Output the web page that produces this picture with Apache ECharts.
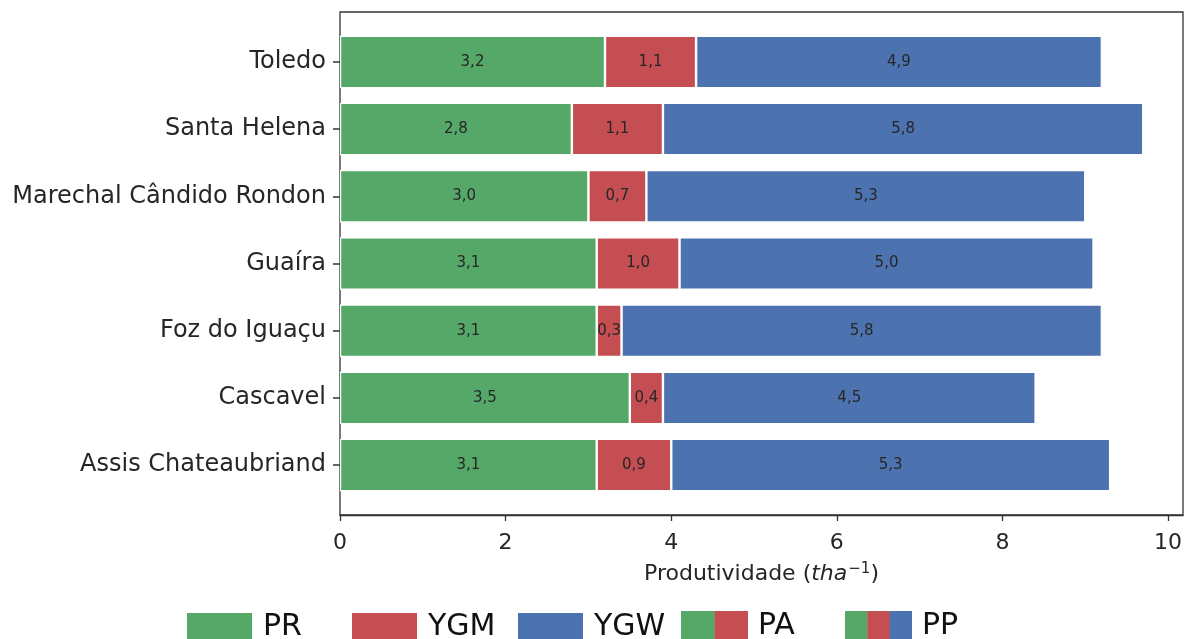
<!DOCTYPE html>
<html>
<head>
<meta charset="utf-8">
<script src="https://cdn.jsdelivr.net/npm/echarts@6/dist/echarts.min.js"></script>
<style>
  html, body { margin: 0; padding: 0; background: #fff; }
  #chart { width: 1185px; height: 639px; }
</style>
</head>
<body>
<div id="chart"></div>
<script>
// categories from top to bottom, as in the picture
const cities = ["Toledo", "Santa Helena", "Marechal Cândido Rondon", "Guaíra", "Foz do Iguaçu", "Cascavel", "Assis Chateaubriand"]
const pr = [3.2, 2.8, 3.0, 3.1, 3.1, 3.5, 3.1]
const ygm = [1.1, 1.1, 0.7, 1.0, 0.3, 0.4, 0.9]
const ygw = [4.9, 5.8, 5.3, 5.0, 5.8, 4.5, 5.3]
const xTicks = [0, 2, 4, 6, 8, 10]

const GREEN = "#55a868"
const RED = "#c44e52"
const BLUE = "#4c72b0"
const FONT = "DejaVu Sans"
const INK = "#262626"

// multi-colour legend swatches
function swatch(colors) {
  const w = 67 / colors.length
  const rects = colors.map((c, i) => `<rect x="${i * w}" y="0" width="${w + 0.3}" height="30" fill="${c}"/>`).join("")
  const svg = `<svg xmlns="http://www.w3.org/2000/svg" width="67" height="30" viewBox="0 0 67 30" preserveAspectRatio="none">${rects}</svg>`
  return "image://data:image/svg+xml;charset=utf-8," + encodeURIComponent(svg)
}

const fmt = (p) => p.value.toFixed(1).replace(".", ",")

const chart = echarts.init(document.getElementById("chart"), null, { renderer: "canvas" })

function legendItem(name, left, icon) {
  return {
    data: [{ name: name, icon: icon || "rect" }],
    left: left,
    top: 611,
    padding: 0,
    itemWidth: 67,
    itemHeight: 30,
    selectedMode: false,
    textStyle: { fontFamily: FONT, fontSize: 30, color: "#111", padding: [2, 0, 0, 5] },
  }
}

const barBase = {
  type: "bar",
  stack: "total",
  xAxisIndex: 1,
  yAxisIndex: 1,
  barWidth: "78%",
  label: { show: true, position: "inside", formatter: fmt, fontFamily: FONT, fontSize: 15, color: INK },
}

chart.setOption({
  animation: false,
  textStyle: { fontFamily: FONT },
  grid: [
    // frame
    { left: 340, right: 2, top: 12, bottom: 124, show: true, borderColor: "#333", borderWidth: 1.3, outerBoundsMode: "none" },
    // bars
    { left: 340, right: 2, top: 28.3, bottom: 140.3, outerBoundsMode: "none" },
  ],
  xAxis: [
    {
      gridIndex: 0,
      type: "value",
      min: 0,
      max: 10.18,
      interval: 2,
      axisLine: { show: true, lineStyle: { color: "#333", width: 1.3 } },
      axisTick: { show: true, length: 6, lineStyle: { color: "#333", width: 1.3 } },
      axisLabel: {
        fontSize: 22,
        color: INK,
        margin: 17,
        showMaxLabel: false,
        formatter: (v) => (xTicks.includes(v) ? String(v) : ""),
      },
      splitLine: { show: false },
      name: "Produtividade ({i|tha}{s|−1})",
      nameLocation: "middle",
      nameGap: 47,
      nameTextStyle: {
        fontSize: 22,
        color: INK,
        rich: {
          i: { fontSize: 22, fontStyle: "italic", color: INK },
          s: { fontSize: 15, color: INK, verticalAlign: "top", padding: [0, 0, 10, 1] },
        },
      },
    },
    { gridIndex: 1, type: "value", min: 0, max: 10.18, show: false },
  ],
  yAxis: [
    { gridIndex: 0, type: "value", min: 0, max: 1, show: false },
    {
      gridIndex: 1,
      type: "category",
      inverse: true,
      data: cities,
      axisLine: { show: false },
      axisTick: { show: true, alignWithLabel: true, length: 7, lineStyle: { color: "#333", width: 1.5 } },
      axisLabel: { fontSize: 24, color: INK, margin: 14, padding: [8, 0, 0, 0] },
    },
  ],
  legend: [
    legendItem("PR", 185),
    legendItem("YGM", 350),
    legendItem("YGW", 516),
    legendItem("PA", 681, swatch([GREEN, RED])),
    legendItem("PP", 845, swatch([GREEN, RED, BLUE])),
  ],
  series: [
    { ...barBase, name: "PR", data: pr, itemStyle: { color: GREEN, borderColor: "#fff", borderWidth: 1.2 } },
    { ...barBase, name: "YGM", data: ygm, itemStyle: { color: RED, borderColor: "#fff", borderWidth: 1.2 } },
    { ...barBase, name: "YGW", data: ygw, itemStyle: { color: BLUE, borderColor: "#fff", borderWidth: 1.2 } },
    { ...barBase, name: "PA", data: [], itemStyle: { color: GREEN } },
    { ...barBase, name: "PP", data: [], itemStyle: { color: BLUE } },
  ],
})
</script>
</body>
</html>
